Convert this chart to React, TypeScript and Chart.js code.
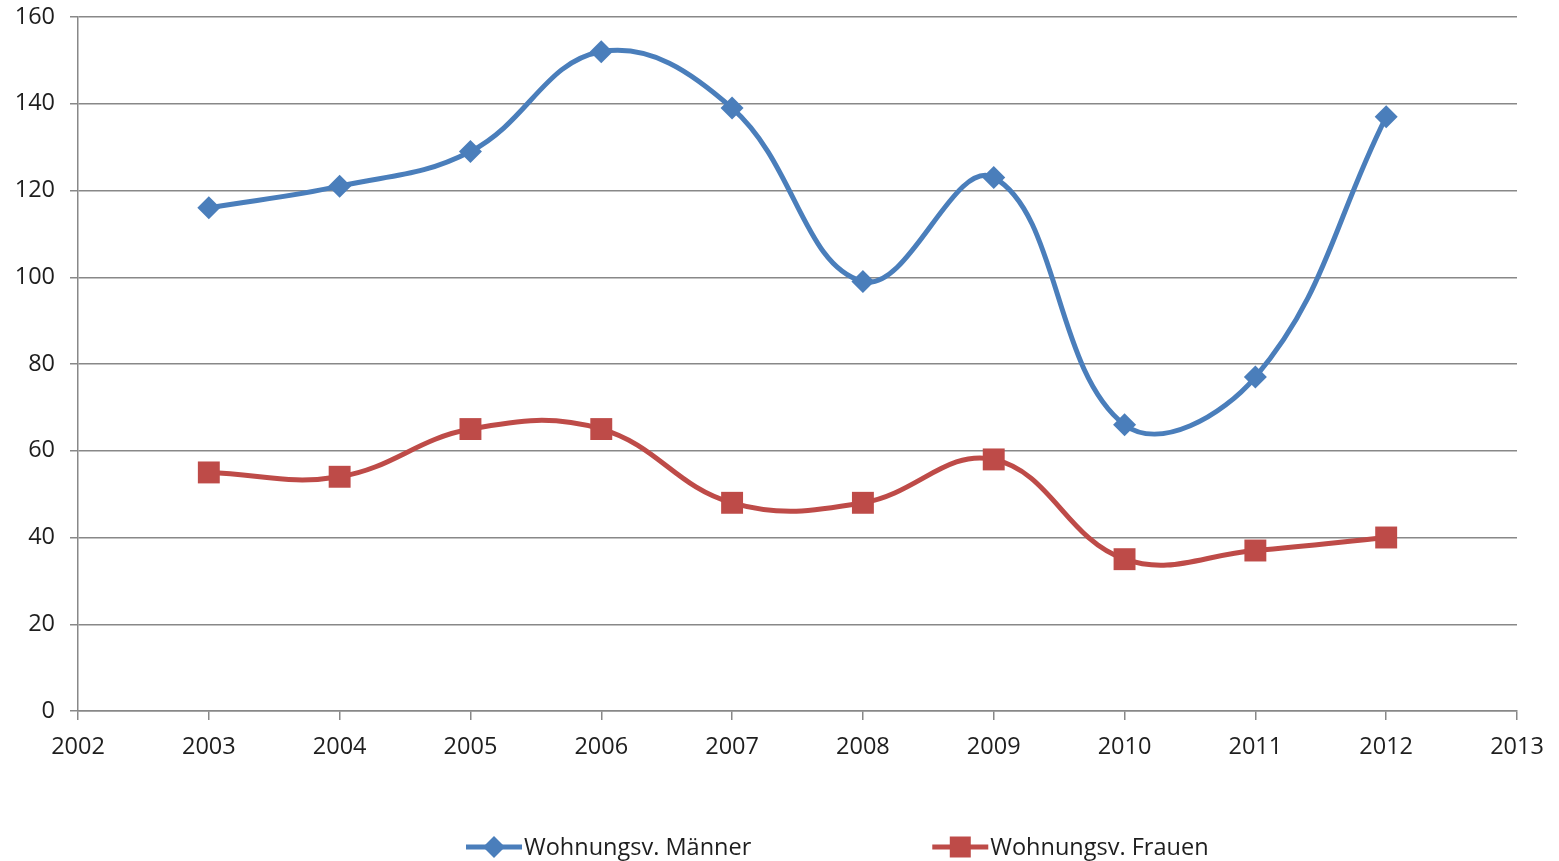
import React, { useEffect, useRef } from "react";
import { Chart, registerables } from "chart.js";

Chart.register(...registerables);

const years = [2003, 2004, 2005, 2006, 2007, 2008, 2009, 2010, 2011, 2012];
const maenner = [116, 121, 129, 152, 139, 99, 123, 66, 77, 137];
const frauen = [55, 54, 65, 65, 48, 48, 58, 35, 37, 40];
const xTickLabels = ["2002", "2003", "2004", "2005", "2006", "2007", "2008", "2009", "2010", "2011", "2012", "2013"];
const yTickValues = [0, 20, 40, 60, 80, 100, 120, 140, 160];
const seriesNames = ["Wohnungsv. Männer", "Wohnungsv. Frauen"];

const BLUE = "#4A7EBB";
const RED = "#BE4B48";
const GRID = "#888888";
const TEXT = "#1E1E1E";
const FONT = "'Open Sans', sans-serif";

const legendPlugin = {
  id: "excelLegend",
  afterDraw(chart: any) {
    const ctx = chart.ctx;
    const y = chart.height - 14;
    let x = 466;
    ctx.save();
    ctx.font = `23.5px ${FONT}`;
    ctx.textBaseline = "middle";
    chart.data.datasets.forEach((ds: any) => {
      const lineLen = 56;
      ctx.strokeStyle = ds.borderColor;
      ctx.lineWidth = 5;
      ctx.beginPath();
      ctx.moveTo(x, y);
      ctx.lineTo(x + lineLen, y);
      ctx.stroke();
      const cx = x + lineLen / 2;
      ctx.fillStyle = ds.borderColor;
      ctx.beginPath();
      if (ds.pointStyle === "rectRot") {
        const r = 11;
        ctx.moveTo(cx - r, y);
        ctx.lineTo(cx, y - r);
        ctx.lineTo(cx + r, y);
        ctx.lineTo(cx, y + r);
        ctx.closePath();
      } else {
        const h = 10.5;
        ctx.rect(cx - h, y - h, 2 * h, 2 * h);
      }
      ctx.fill();
      ctx.fillStyle = TEXT;
      ctx.textAlign = "left";
      ctx.fillText(ds.label, x + lineLen + 2, y + 1);
      const w = ctx.measureText(ds.label).width;
      x = x + lineLen + 2 + w + 181;
    });
    ctx.restore();
  },
};

export default function App() {
  const ref = useRef<HTMLCanvasElement | null>(null);
  useEffect(() => {
    if (!ref.current) return;
    const chart = new Chart(ref.current, {
      type: "line",
      data: {
        datasets: [
          {
            label: seriesNames[0],
            data: years.map((y, i) => ({ x: y, y: maenner[i] })),
            borderColor: BLUE,
            backgroundColor: BLUE,
            borderWidth: 5,
            pointStyle: "rectRot",
            pointRadius: 11.5,
            pointHoverRadius: 11.5,
            pointBorderWidth: 0,
            tension: 0.4,
          },
          {
            label: seriesNames[1],
            data: years.map((y, i) => ({ x: y, y: frauen[i] })),
            borderColor: RED,
            backgroundColor: RED,
            borderWidth: 5,
            pointStyle: "rect",
            pointRadius: 15.5,
            pointHoverRadius: 15.5,
            pointBorderWidth: 0,
            tension: 0.4,
          },
        ],
      },
      options: {
        animation: false,
        responsive: true,
        maintainAspectRatio: false,
        layout: { padding: { top: 17, right: 42, left: 0, bottom: 0 } },
        plugins: {
          legend: { display: false },
          tooltip: { enabled: false },
        },
        scales: {
          x: {
            type: "linear",
            min: Number(xTickLabels[0]),
            max: Number(xTickLabels[xTickLabels.length - 1]),
            afterBuildTicks: (scale: any) => {
              scale.ticks = xTickLabels.map((t) => ({ value: Number(t) }));
            },
            afterFit: (scale: any) => {
              scale.height = 150;
              scale.paddingLeft = 0;
              scale.paddingRight = 0;
            },
            ticks: {
              callback: (v: any) => String(v),
              color: TEXT,
              font: { family: FONT, size: 23.5 },
              padding: 13,
              maxRotation: 0,
              autoSkip: false,
            },
            grid: {
              drawOnChartArea: false,
              drawTicks: true,
              tickLength: 9,
              color: GRID,
              lineWidth: 1.5,
            },
            border: { color: GRID, width: 1.5 },
          },
          y: {
            min: 0,
            max: 160,
            afterBuildTicks: (scale: any) => {
              scale.ticks = yTickValues.map((v) => ({ value: v }));
            },
            afterFit: (scale: any) => {
              scale.width = 78;
              scale.paddingTop = 0;
              scale.paddingBottom = 0;
            },
            ticks: {
              color: TEXT,
              font: { family: FONT, size: 23.5 },
              padding: 15,
            },
            grid: {
              color: GRID,
              lineWidth: 1.5,
              tickLength: 8,
            },
            border: { color: GRID, width: 1.5 },
          },
        },
      },
      plugins: [legendPlugin],
    } as any);
    return () => chart.destroy();
  }, []);
  return (
    <div style={{ position: "fixed", left: 0, top: 0, width: 1559, height: 861, background: "#fff" }}>
      <canvas ref={ref} />
    </div>
  );
}
